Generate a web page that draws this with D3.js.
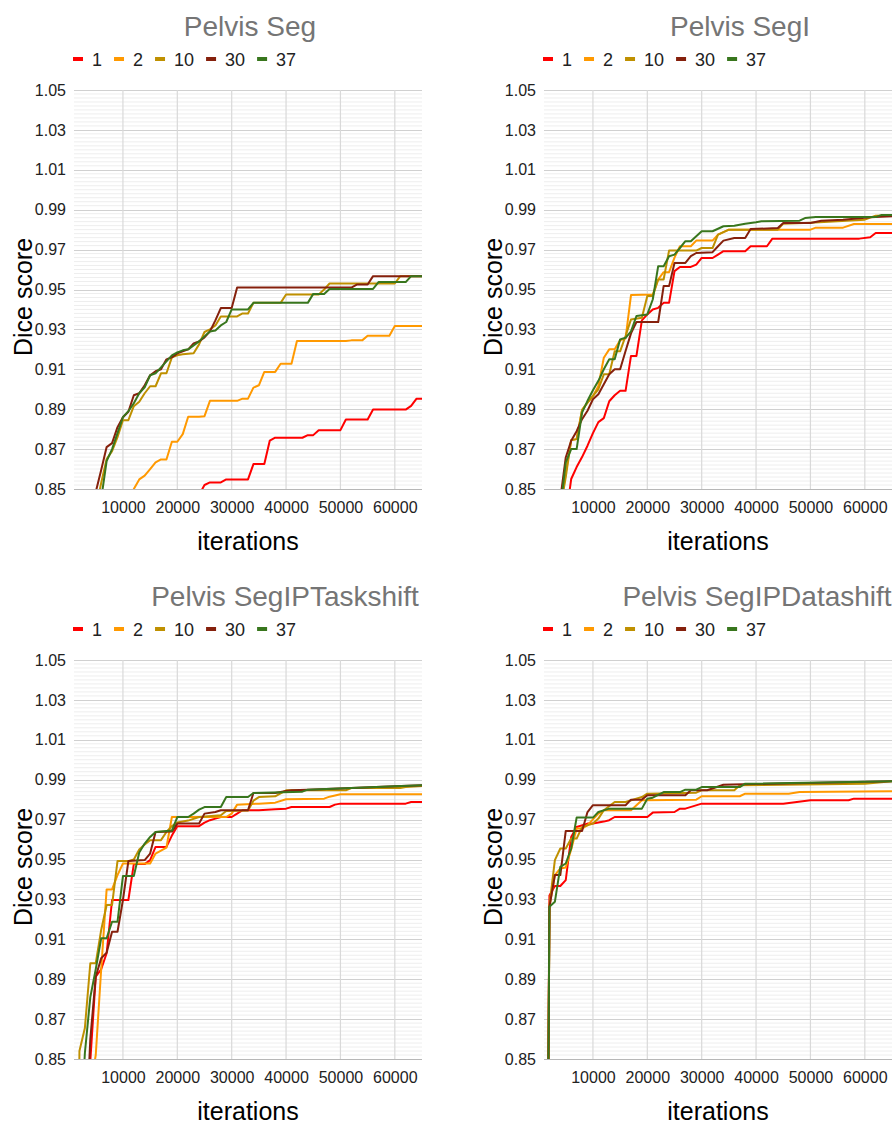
<!DOCTYPE html>
<html>
<head>
<meta charset="utf-8">
<script src="https://cdn.jsdelivr.net/npm/d3@7"></script>
<style>
  body { margin: 0; background: #fff; }
  text { font-family: Arial, "Liberation Sans", sans-serif; }
</style>
</head>
<body>
<svg id="chart" width="893" height="1126"></svg>
<script>
// ---- data ----
const panelTitles = ['Pelvis Seg', 'Pelvis SegI', 'Pelvis SegIPTaskshift', 'Pelvis SegIPDatashift'];
const seriesLabels = ['1', '2', '10', '30', '37'];
const seriesColors = ['#ff0000', '#ff9900', '#bf9000', '#85200c', '#38761d'];
const yTickValues = [0.85, 0.87, 0.89, 0.91, 0.93, 0.95, 0.97, 0.99, 1.01, 1.03, 1.05];
const xTickValues = [10000, 20000, 30000, 40000, 50000, 60000];

// Pelvis Seg  ([iteration, dice])
const seg_1 = [[23000,0.838],[24000,0.847],[25000,0.852],[26000,0.8533],[28000,0.8533],[29000,0.8548],[33000,0.8548],[34000,0.8625],[36000,0.8625],[37000,0.8742],[38000,0.8757],[43000,0.8757],[44000,0.877],[45000,0.877],[46000,0.8795],[50000,0.8795],[51000,0.8848],[55000,0.8848],[56000,0.8898],[62000,0.8898],[63000,0.8917],[64000,0.8953],[65000,0.8953]];
const seg_2 = [[11000,0.84],[12000,0.85],[13000,0.8548],[14000,0.8567],[15000,0.86],[16000,0.8633],[17000,0.8648],[18000,0.8648],[19000,0.8737],[20000,0.8737],[21000,0.8775],[22000,0.8862],[24000,0.8862],[25000,0.8865],[26000,0.8942],[31000,0.8942],[32000,0.8953],[33000,0.8953],[34000,0.9008],[35000,0.902],[36000,0.9087],[38000,0.9087],[39000,0.9128],[41000,0.9128],[42000,0.9242],[51000,0.9242],[52000,0.9245],[54000,0.9245],[55000,0.9268],[59000,0.9268],[60000,0.9317],[65000,0.9317]];
const seg_10 = [[5000,0.84],[6000,0.853],[7000,0.865],[8000,0.869],[9000,0.876],[10000,0.8845],[11000,0.8845],[12000,0.8915],[13000,0.8937],[14000,0.898],[15000,0.9015],[16000,0.9015],[17000,0.908],[18000,0.908],[19000,0.916],[20000,0.917],[21000,0.9175],[23000,0.918],[24000,0.9225],[25000,0.9287],[26000,0.930],[27000,0.932],[28000,0.9365],[31000,0.9365],[32000,0.938],[33000,0.938],[34000,0.9433],[39000,0.9433],[40000,0.9475],[46000,0.9475],[47000,0.950],[48000,0.953],[60000,0.953],[61000,0.9567],[65000,0.9567]];
const seg_30 = [[4000,0.835],[5000,0.8485],[6000,0.8595],[7000,0.871],[8000,0.873],[9000,0.881],[10000,0.886],[11000,0.8887],[12000,0.897],[13000,0.898],[14000,0.902],[15000,0.907],[16000,0.909],[17000,0.910],[18000,0.915],[19000,0.916],[20000,0.918],[22000,0.920],[23000,0.923],[24000,0.924],[25000,0.926],[26000,0.929],[27000,0.9345],[28000,0.9407],[30000,0.9407],[31000,0.951],[52000,0.951],[53000,0.9525],[55000,0.9525],[56000,0.9567],[65000,0.9567]];
const seg_37 = [[6000,0.845],[7000,0.864],[8000,0.870],[9000,0.878],[10000,0.886],[11000,0.889],[12000,0.893],[13000,0.898],[14000,0.901],[15000,0.907],[16000,0.908],[17000,0.911],[18000,0.914],[19000,0.917],[20000,0.9185],[21000,0.9195],[22000,0.920],[23000,0.922],[24000,0.924],[25000,0.9265],[26000,0.929],[27000,0.9295],[28000,0.932],[29000,0.9337],[30000,0.940],[33000,0.940],[34000,0.9433],[44000,0.9433],[45000,0.9478],[47000,0.9478],[48000,0.9503],[56000,0.9503],[57000,0.9537],[62000,0.9537],[63000,0.9567],[65000,0.9567]];

// Pelvis SegI
const segI_1 = [[5000,0.835],[6000,0.855],[7000,0.861],[8000,0.866],[9000,0.8717],[10000,0.878],[11000,0.8835],[12000,0.8855],[13000,0.894],[14000,0.897],[15000,0.8992],[16000,0.8992],[17000,0.9167],[18000,0.9167],[19000,0.9345],[20000,0.9375],[21000,0.94],[22000,0.9408],[23000,0.9433],[24000,0.9433],[25000,0.9592],[26000,0.9613],[28000,0.9613],[29000,0.9625],[30000,0.9658],[32000,0.9658],[33000,0.9675],[34000,0.9692],[38000,0.9692],[39000,0.9717],[42000,0.9717],[43000,0.9755],[59000,0.9755],[61000,0.9762],[62000,0.9783],[65000,0.9783]];
const segI_2 = [[4000,0.84],[5000,0.858],[6000,0.8745],[7000,0.875],[8000,0.8895],[9000,0.8933],[10000,0.8965],[11000,0.9017],[12000,0.9158],[13000,0.92],[14000,0.92],[15000,0.9245],[16000,0.9255],[17000,0.9472],[21000,0.9475],[22000,0.955],[23000,0.9587],[24000,0.9587],[25000,0.966],[26000,0.9717],[28000,0.9717],[29000,0.9745],[32000,0.9745],[33000,0.9775],[35000,0.98],[50000,0.98],[51000,0.981],[56000,0.981],[58000,0.9828],[65000,0.9828]];
const segI_10 = [[4000,0.84],[5000,0.856],[6000,0.8745],[7000,0.875],[8000,0.8897],[9000,0.8933],[10000,0.8967],[11000,0.90],[12000,0.9075],[13000,0.9075],[14000,0.919],[15000,0.919],[16000,0.9267],[17000,0.935],[19000,0.9358],[20000,0.9467],[21000,0.9467],[22000,0.955],[23000,0.955],[24000,0.9695],[29000,0.9695],[30000,0.9708],[32000,0.9708],[33000,0.9775],[35000,0.98],[44000,0.98],[45000,0.983],[50000,0.9835],[60000,0.985],[62000,0.987],[65000,0.9872]];
const segI_30 = [[3000,0.83],[4000,0.845],[5000,0.8658],[6000,0.8742],[7000,0.879],[8000,0.885],[9000,0.8892],[10000,0.895],[11000,0.8975],[12000,0.9025],[13000,0.9075],[14000,0.91],[15000,0.91],[16000,0.9192],[17000,0.928],[18000,0.9337],[22000,0.9337],[23000,0.9517],[24000,0.9517],[25000,0.9633],[27000,0.9633],[28000,0.9667],[29000,0.9683],[32000,0.9687],[33000,0.9717],[34000,0.9745],[36000,0.9758],[38000,0.9758],[39000,0.9803],[44000,0.9808],[45000,0.9833],[50000,0.9833],[52000,0.9845],[56000,0.985],[61000,0.9862],[65000,0.9867]];
const segI_37 = [[4000,0.84],[5000,0.8633],[6000,0.87],[7000,0.87],[8000,0.8883],[9000,0.8942],[10000,0.8995],[11000,0.9042],[12000,0.91],[13000,0.915],[14000,0.915],[15000,0.925],[16000,0.9258],[17000,0.929],[18000,0.9367],[20000,0.9375],[21000,0.945],[22000,0.9617],[23000,0.9617],[24000,0.9667],[25000,0.9675],[26000,0.9708],[27000,0.9742],[28000,0.9742],[30000,0.9792],[32000,0.9792],[34000,0.9817],[36000,0.982],[38000,0.983],[40000,0.9837],[41000,0.9842],[48000,0.9845],[49000,0.9858],[51000,0.9863],[62000,0.9863],[63000,0.9873],[65000,0.9873]];

// Pelvis SegIPTaskshift
const task_1 = [[3000,0.82],[4000,0.849],[5000,0.8913],[6000,0.895],[7000,0.903],[8000,0.9297],[11000,0.9297],[12000,0.9477],[14000,0.9477],[15000,0.9497],[16000,0.9563],[18000,0.9563],[19000,0.962],[20000,0.9667],[24000,0.9667],[25000,0.9685],[26000,0.9697],[27000,0.9705],[28000,0.9713],[30000,0.9713],[31000,0.973],[32000,0.9747],[35000,0.9747],[38000,0.9752],[40000,0.9755],[41000,0.9763],[48000,0.9763],[49000,0.9775],[50000,0.978],[62000,0.978],[63000,0.9788],[65000,0.9788]];
const task_2 = [[4000,0.835],[5000,0.852],[6000,0.895],[7000,0.935],[8000,0.935],[9000,0.9422],[10000,0.948],[15000,0.948],[16000,0.953],[18000,0.956],[19000,0.9713],[29000,0.9713],[30000,0.973],[31000,0.9775],[35000,0.978],[38000,0.9785],[40000,0.9802],[47000,0.9805],[48000,0.9815],[50000,0.9827],[65000,0.9827]];
const task_10 = [[1000,0.5],[2000,0.854],[3000,0.8655],[4000,0.898],[5000,0.898],[6000,0.9147],[7000,0.9272],[8000,0.9272],[9000,0.9492],[11000,0.9492],[12000,0.95],[13000,0.955],[14000,0.9575],[15000,0.9597],[17000,0.9597],[18000,0.9638],[19000,0.9667],[20000,0.9685],[22000,0.9695],[24000,0.9713],[28000,0.9722],[29000,0.9743],[33000,0.9745],[34000,0.9795],[35000,0.9813],[38000,0.9817],[40000,0.9847],[51000,0.9847],[52000,0.9858],[61000,0.9858],[62000,0.9863],[65000,0.9868]];
const task_30 = [[3000,0.80],[4000,0.86],[5000,0.8913],[6000,0.9005],[7000,0.9033],[8000,0.9138],[9000,0.9138],[10000,0.9297],[11000,0.9492],[14000,0.9497],[15000,0.953],[16000,0.9638],[19000,0.964],[20000,0.968],[24000,0.968],[25000,0.973],[27000,0.9738],[28000,0.9747],[33000,0.9747],[34000,0.9833],[38000,0.9833],[40000,0.9843],[41000,0.9847],[44000,0.985],[52000,0.9858],[60000,0.9867],[65000,0.9872]];
const task_37 = [[2000,0.80],[3000,0.853],[4000,0.881],[5000,0.895],[6000,0.9105],[7000,0.9105],[8000,0.9188],[9000,0.9188],[10000,0.9417],[12000,0.9417],[13000,0.9535],[14000,0.958],[15000,0.9613],[16000,0.9638],[19000,0.9645],[20000,0.9713],[22000,0.9713],[23000,0.973],[24000,0.975],[25000,0.9763],[28000,0.9763],[29000,0.9813],[33000,0.9813],[34000,0.9833],[43000,0.984],[44000,0.985],[52000,0.9858],[60000,0.9867],[65000,0.9872]];

// Pelvis SegIPDatashift
const data_1 = [[1000,0.5],[2000,0.932],[3000,0.9367],[4000,0.9367],[5000,0.9397],[6000,0.9613],[7000,0.9663],[9000,0.968],[10000,0.968],[12000,0.969],[13000,0.9697],[14000,0.9713],[20000,0.9713],[21000,0.9735],[25000,0.9738],[26000,0.9755],[27000,0.9755],[30000,0.978],[45000,0.978],[50000,0.9797],[57000,0.9797],[58000,0.9805],[65000,0.9805]];
const data_2 = [[1000,0.5],[2000,0.9263],[3000,0.9422],[4000,0.9455],[5000,0.946],[6000,0.955],[7000,0.9655],[8000,0.9655],[9000,0.9672],[11000,0.973],[12000,0.9747],[17000,0.9747],[19000,0.9797],[29000,0.98],[30000,0.9817],[37000,0.9817],[38000,0.983],[46000,0.983],[48000,0.9838],[65000,0.9842]];
const data_10 = [[1000,0.5],[2000,0.927],[3000,0.9497],[4000,0.9555],[5000,0.9555],[6000,0.9605],[7000,0.9605],[8000,0.9663],[10000,0.968],[11000,0.9705],[12000,0.9747],[14000,0.9788],[16000,0.9788],[19000,0.9813],[20000,0.983],[29000,0.9835],[30000,0.9847],[36000,0.9847],[37000,0.9872],[60000,0.988],[65000,0.9892]];
const data_30 = [[1000,0.5],[2000,0.9263],[3000,0.9422],[4000,0.9422],[5000,0.9643],[8000,0.9643],[9000,0.9738],[10000,0.9772],[16000,0.9772],[17000,0.98],[19000,0.98],[20000,0.9822],[27000,0.9822],[28000,0.9847],[31000,0.9847],[34000,0.9875],[65000,0.9892]];
const data_37 = [[1000,0.5],[2000,0.9263],[3000,0.9288],[4000,0.9463],[5000,0.948],[6000,0.9555],[7000,0.971],[10000,0.971],[11000,0.9738],[13000,0.9755],[19000,0.9755],[20000,0.9805],[21000,0.981],[23000,0.9838],[26000,0.9838],[27000,0.985],[29000,0.985],[30000,0.9863],[37000,0.9863],[38000,0.988],[65000,0.9892]];

// ---- layout ----
const panels = [
  { title: panelTitles[0], series: [seg_1, seg_2, seg_10, seg_30, seg_37], left: 74, top: 90, titleX: 250 },
  { title: panelTitles[1], series: [segI_1, segI_2, segI_10, segI_30, segI_37], left: 544, top: 90, titleX: 740 },
  { title: panelTitles[2], series: [task_1, task_2, task_10, task_30, task_37], left: 74, top: 660, titleX: 285 },
  { title: panelTitles[3], series: [data_1, data_2, data_10, data_30, data_37], left: 544, top: 660, titleX: 757 }
];
const plot_w = 348;
const plot_h = 399;

const svg = d3.select('#chart');

panels.forEach((p, pi) => {
  const g = svg.append('g');
  const x = d3.scaleLinear().domain([1000, 65000]).range([p.left, p.left + plot_w]);
  const y = d3.scaleLinear().domain([0.85, 1.05]).range([p.top + plot_h, p.top]);

  // title
  g.append('text')
    .attr('x', p.titleX)
    .attr('y', p.top - 54)
    .attr('text-anchor', 'middle')
    .attr('font-size', 28)
    .attr('fill', '#757575')
    .text(p.title);

  // legend
  let tx = p.left + 18;
  const ly = p.top - 31;
  seriesLabels.forEach((lab, i) => {
    g.append('rect')
      .attr('x', tx - 19).attr('y', ly - 2)
      .attr('width', 10).attr('height', 4)
      .attr('fill', seriesColors[i]);
    const t = g.append('text')
      .attr('x', tx).attr('y', ly + 7)
      .attr('font-size', 18)
      .attr('fill', '#222')
      .text(lab);
    tx += t.node().getComputedTextLength() + 31;
  });

  // minor horizontal grid
  const minor = d3.range(0, 101).map(k => 0.85 + k * 0.002).filter((v, k) => k % 10 !== 0);
  g.append('g')
    .selectAll('line')
    .data(minor)
    .join('line')
    .attr('x1', p.left).attr('x2', p.left + plot_w)
    .attr('y1', d => y(d)).attr('y2', d => y(d))
    .attr('stroke', '#eeeeee').attr('stroke-width', 1);

  // major horizontal grid
  g.append('g')
    .selectAll('line')
    .data(yTickValues)
    .join('line')
    .attr('x1', p.left).attr('x2', p.left + plot_w)
    .attr('y1', d => Math.round(y(d)) + 0.5).attr('y2', d => Math.round(y(d)) + 0.5)
    .attr('stroke', d => d === 0.85 ? '#b7b7b7' : '#d0d0d0').attr('stroke-width', 1);

  // vertical grid
  g.append('g')
    .selectAll('line')
    .data(xTickValues)
    .join('line')
    .attr('x1', d => x(d)).attr('x2', d => x(d))
    .attr('y1', p.top).attr('y2', p.top + plot_h)
    .attr('stroke', '#d9d9d9').attr('stroke-width', 1.2);

  // axes labels
  const yAxis = g.append('g')
    .attr('transform', `translate(${p.left},0)`)
    .call(d3.axisLeft(y).tickValues(yTickValues).tickFormat(d3.format('.2f')).tickSize(0).tickPadding(8));
  yAxis.select('.domain').remove();
  yAxis.selectAll('text').attr('font-size', 16).attr('fill', '#222').attr('font-family', 'Arial, "Liberation Sans", sans-serif');

  const xAxis = g.append('g')
    .attr('transform', `translate(0,${p.top + plot_h})`)
    .call(d3.axisBottom(x).tickValues(xTickValues).tickFormat(d3.format('d')).tickSize(0).tickPadding(13));
  xAxis.select('.domain').remove();
  xAxis.selectAll('text').attr('font-size', 16).attr('fill', '#222').attr('font-family', 'Arial, "Liberation Sans", sans-serif');

  // axis titles
  g.append('text')
    .attr('x', p.left + plot_w / 2)
    .attr('y', p.top + plot_h + 61)
    .attr('text-anchor', 'middle')
    .attr('font-size', 25)
    .attr('fill', '#000')
    .text('iterations');
  g.append('text')
    .attr('transform', `translate(${p.left - 42},${p.top + 207}) rotate(-90)`)
    .attr('text-anchor', 'middle')
    .attr('font-size', 25)
    .attr('fill', '#000')
    .text('Dice score');

  // lines
  const clipId = 'clip' + pi;
  svg.append('clipPath').attr('id', clipId)
    .append('rect')
    .attr('x', p.left).attr('y', p.top - 5)
    .attr('width', plot_w).attr('height', plot_h + 5);

  const line = d3.line().x(d => x(d[0])).y(d => y(d[1]));
  g.append('g')
    .attr('clip-path', `url(#${clipId})`)
    .selectAll('path')
    .data(p.series)
    .join('path')
    .attr('d', line)
    .attr('fill', 'none')
    .attr('stroke', (d, i) => seriesColors[i])
    .attr('stroke-width', 2)
    .attr('stroke-linejoin', 'round');
});
</script>
</body>
</html>
